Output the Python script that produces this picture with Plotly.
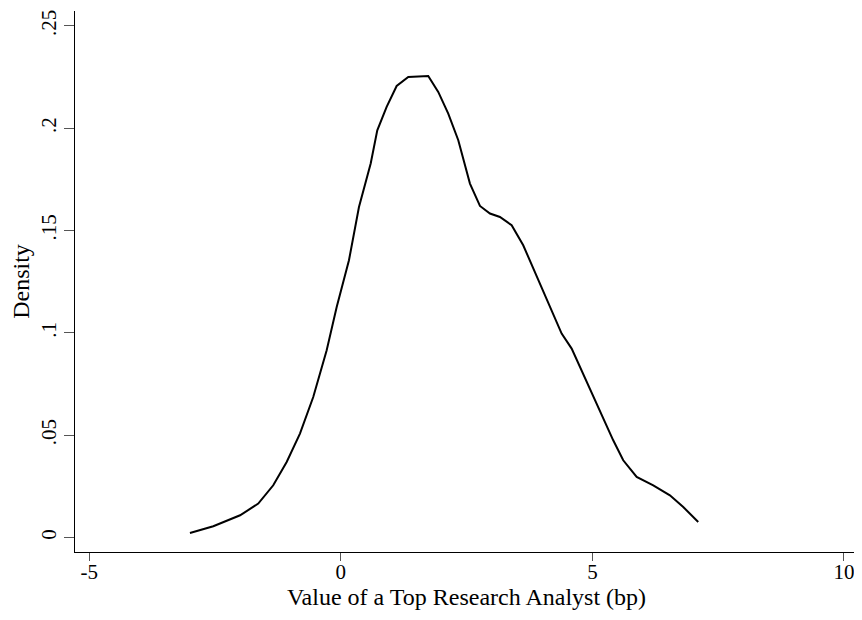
import plotly.graph_objects as go

# Kernel density estimate
x_vals = [-3.00, -2.536, -2.003, -1.642, -1.344, -1.077, -0.813, -0.549, -0.282, -0.083,
          0.161, 0.360, 0.593, 0.724, 0.910, 1.109, 1.340, 1.737, 1.936, 2.135,
          2.334, 2.566, 2.765, 2.964, 3.162, 3.395, 3.625, 3.824, 4.023, 4.222,
          4.389, 4.588, 4.786, 5.017, 5.216, 5.414, 5.613, 5.880, 6.210, 6.541,
          6.806, 7.104]
density = [0.00225, 0.00552, 0.01090, 0.01661, 0.02556, 0.03694, 0.05082, 0.06871, 0.09153, 0.11269,
           0.13551, 0.16155, 0.18276, 0.19903, 0.21042, 0.22068, 0.22508, 0.22557, 0.21775, 0.20719,
           0.19415, 0.17299, 0.16204, 0.15833, 0.15667, 0.15261, 0.14284, 0.13145, 0.12085, 0.10863,
           0.09969, 0.09236, 0.08175, 0.06954, 0.05893, 0.04754, 0.03777, 0.02961, 0.02556, 0.02068,
           0.01495, 0.00762]

x_ticks = [-5, 0, 5, 10]
x_tick_labels = ["-5", "0", "5", "10"]
y_ticks = [0, 0.05, 0.1, 0.15, 0.2, 0.25]
y_tick_labels = ["0", ".05", ".1", ".15", ".2", ".25"]

fig = go.Figure()
fig.add_trace(go.Scatter(x=x_vals, y=density, mode="lines",
                         line=dict(color="black", width=2), showlegend=False))

font = dict(family="Liberation Serif, Times New Roman, serif", size=19.7, color="black")
tick_font = dict(family="Liberation Serif, Times New Roman, serif", size=21, color="black")

# page body has an 8px margin, so the figure is sized to fill the rest of the window
fig.update_layout(
    width=854, height=612,
    margin=dict(l=67, r=4, t=3, b=68),
    paper_bgcolor="white", plot_bgcolor="white",
    font=font,
    xaxis=dict(range=[-5.285, 10.28], tickvals=x_ticks, ticktext=x_tick_labels,
               automargin=False,
               showgrid=False, zeroline=False, showline=True, linecolor="black", linewidth=1.2,
               ticks="outside", ticklen=8, tickcolor="#555", tickwidth=1.2,
               ticklabelstandoff=-7,
               title=dict(text="Value of a Top Research Analyst (bp)", standoff=0),
               tickfont=tick_font),
    yaxis=dict(range=[-0.00704, 0.2573], tickvals=y_ticks, ticktext=y_tick_labels,
               automargin=False,
               showgrid=False, zeroline=False, showline=True, linecolor="black", linewidth=1.2,
               ticks="outside", ticklen=10, tickcolor="#555", tickwidth=1.2,
               tickangle=-90,
               title=dict(text="Density", standoff=2),
               tickfont=tick_font),
)

fig.write_html("out.html")
